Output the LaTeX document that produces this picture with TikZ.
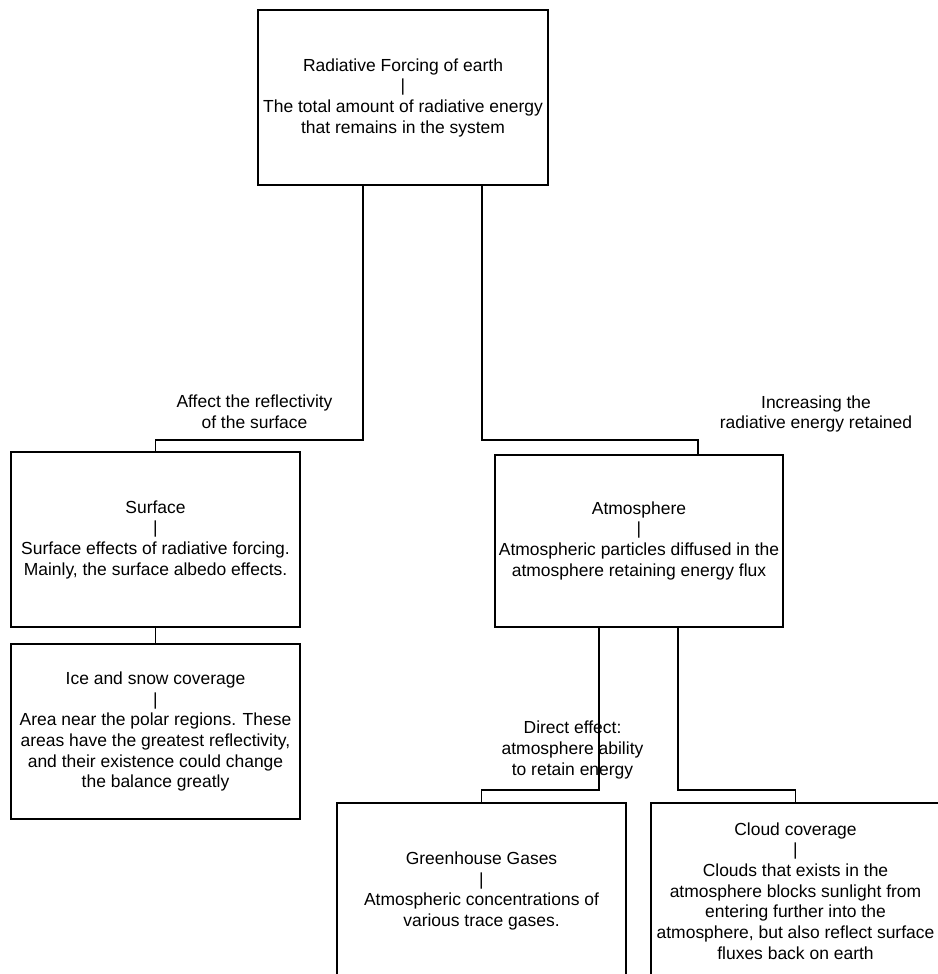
\documentclass[tikz,border=0pt]{standalone}
\usepackage{fontspec}
\setmainfont{Liberation Sans}
\begin{document}
\begin{tikzpicture}[x=0.75pt,y=-0.75pt,
  box/.style={draw=black,line width=1.4pt,rectangle,inner sep=0pt,align=center,
    minimum width=#1},
  box/.default={217pt},
  lbl/.style={inner sep=0pt,align=center},
  conn/.style={draw=black,line width=1.4pt},
  every node/.append style={font=\fontsize{13.1pt}{15.5pt}\selectfont}]
\clip (0,0) rectangle (938,974);
\fill[white] (0,0) rectangle (938,974);

\node[box={217.5pt},minimum height=131.25pt] (top) at (403,97.5)
  {Radiative Forcing of earth\\|\\The total amount of radiative energy\\that remains in the system};
\node[box={216.75pt},minimum height=131.25pt] (surf) at (155.5,539.5)
  {Surface\\|\\Surface effects of radiative forcing.\\Mainly, the surface albedo effects.};
\node[box={216pt},minimum height=129pt] (atm) at (639,540.75)
  {Atmosphere\\|\\Atmospheric particles diffused in the\\atmosphere retaining energy flux};
\node[box={216.75pt},minimum height=131.25pt] (ice) at (155.5,731.5)
  {Ice and snow coverage\\|\\Area near the polar regions. These\\areas have the greatest reflectivity,\\and their existence could change\\the balance greatly};
\node[box={216.75pt},minimum height=132pt] (green) at (481.5,891)
  {Greenhouse Gases\\|\\Atmospheric concentrations of\\various trace gases.};
\node[box={216.75pt},minimum height=132pt] (cloud) at (795.5,891)
  {Cloud coverage\\|\\Clouds that exists in the\\atmosphere blocks sunlight from\\entering further into the\\atmosphere, but also reflect surface\\fluxes back on earth};

\draw[conn] ([xshift=-30pt]top.south) -- ++(0,254) -| (surf.north);
\draw[conn] ([xshift=59.25pt]top.south) -- ++(0,254) -| ([xshift=44.25pt]atm.north);
\draw[conn] (surf.south) -- (ice.north);
\draw[conn] ([xshift=-30pt]atm.south) -- ++(0,162) -| (green.north);
\draw[conn] ([xshift=29.25pt]atm.south) -- ++(0,162) -| (cloud.north);

\node[lbl] (l1) at (254.5,412) {Affect the reflectivity\\of the surface};
\node[lbl] (l2) at (816,414) {Increasing the\\radiative energy retained};
\node[lbl] (l3) at (572.5,750) {Direct effect:\\atmosphere ability\\to retain energy};
\end{tikzpicture}
\end{document}
